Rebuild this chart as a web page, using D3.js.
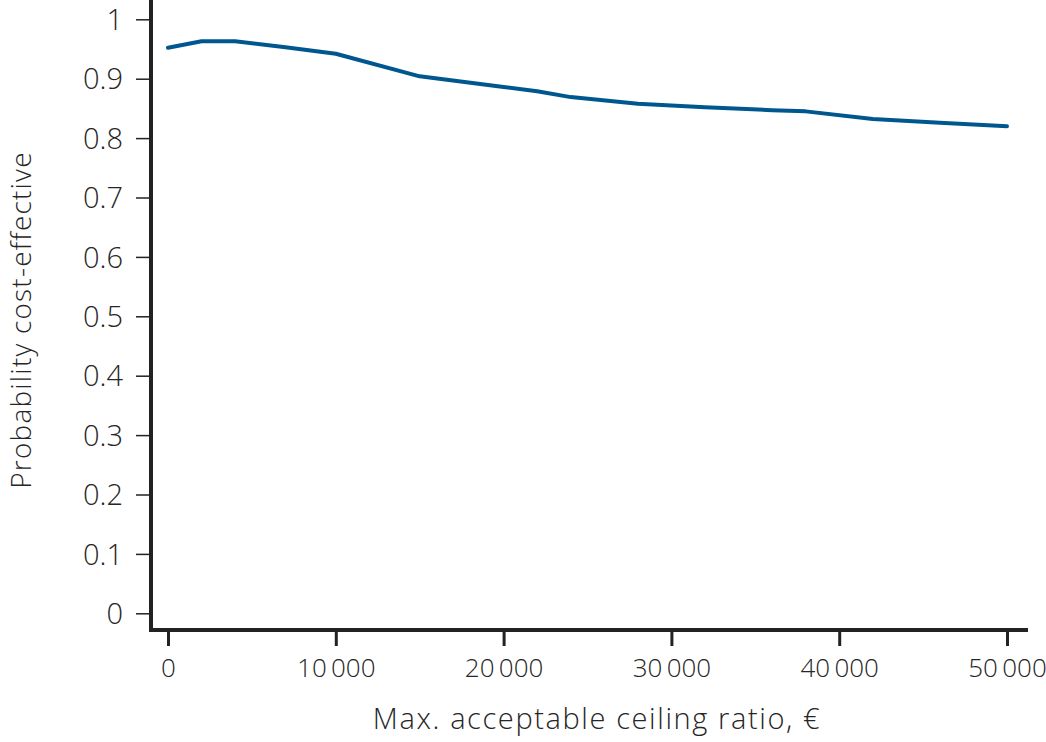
<!DOCTYPE html>
<html>
<head>
<meta charset="utf-8">
<script src="https://cdn.jsdelivr.net/npm/d3@7"></script>
<style>
  body { margin: 0; background: #fff; }
  text { font-family: "Open Sans", "DejaVu Sans", sans-serif; font-weight: 300; fill: #262626; }
</style>
</head>
<body>
<svg id="chart" width="1046" height="742"></svg>
<script>
// ceiling ratio (euro) and probability cost-effective
var ceiling = [0, 2000, 4000, 7000, 10000, 15000, 20000, 22000, 24000, 28000, 32000, 36000, 38000, 42000, 46000, 50000];
var prob    = [0.952, 0.963, 0.963, 0.953, 0.942, 0.904, 0.886, 0.879, 0.869, 0.858, 0.852, 0.847, 0.845, 0.832, 0.826, 0.820];
var xTicks = [0, 10000, 20000, 30000, 40000, 50000];
var yTicks = [0, 0.1, 0.2, 0.3, 0.4, 0.5, 0.6, 0.7, 0.8, 0.9, 1];

var svg = d3.select("#chart");

var x = d3.scaleLinear().domain([0, 50000]).range([168, 1007]);
var y = d3.scaleLinear().domain([0, 1]).range([613.3, 19.3]);

var fmtX = function(d) { return d === 0 ? "0" : d3.format(",")(d).replace(/,/g, "\u2009"); };

// y axis ticks + labels
var yAxis = svg.append("g").attr("transform", "translate(151,0)")
  .call(d3.axisLeft(y).tickValues(yTicks).tickSize(15).tickPadding(13)
    .tickFormat(function(d) { return d === 0 ? "0" : d === 1 ? "1" : d3.format(".1f")(d); }));
yAxis.select(".domain").remove();
yAxis.selectAll(".tick line").attr("stroke", "#222").attr("stroke-width", 1.5);
yAxis.selectAll(".tick text").style("font-size", "29px").attr("dy", "0.35em");

// x axis ticks + labels
var xAxis = svg.append("g").attr("transform", "translate(0,630)")
  .call(d3.axisBottom(x).tickValues(xTicks).tickSize(16).tickPadding(13).tickFormat(fmtX));
xAxis.select(".domain").remove();
xAxis.selectAll(".tick line").attr("stroke", "#222").attr("stroke-width", 3);
xAxis.selectAll(".tick text").style("font-size", "26px");

// axis lines
svg.append("line").attr("x1", 151).attr("x2", 151).attr("y1", 0).attr("y2", 632)
  .attr("stroke", "#222").attr("stroke-width", 4);
svg.append("line").attr("x1", 149).attr("x2", 1028).attr("y1", 630).attr("y2", 630)
  .attr("stroke", "#222").attr("stroke-width", 4);

// data line
var line = d3.line()
  .x(function(d, i) { return x(ceiling[i]); })
  .y(function(d) { return y(d); });

svg.append("path")
  .datum(prob)
  .attr("d", line)
  .attr("fill", "none")
  .attr("stroke", "#00578f")
  .attr("stroke-width", 4)
  .attr("stroke-linejoin", "round")
  .attr("stroke-linecap", "round");

// titles
svg.append("text")
  .attr("x", 597).attr("y", 729)
  .attr("text-anchor", "middle")
  .style("font-size", "29px")
  .style("letter-spacing", "1.6px")
  .text("Max. acceptable ceiling ratio, \u20AC");

svg.append("text")
  .attr("transform", "translate(31,320) rotate(-90)")
  .attr("text-anchor", "middle")
  .style("font-size", "28px")
  .style("letter-spacing", "1.2px")
  .text("Probability cost-effective");
</script>
</body>
</html>
